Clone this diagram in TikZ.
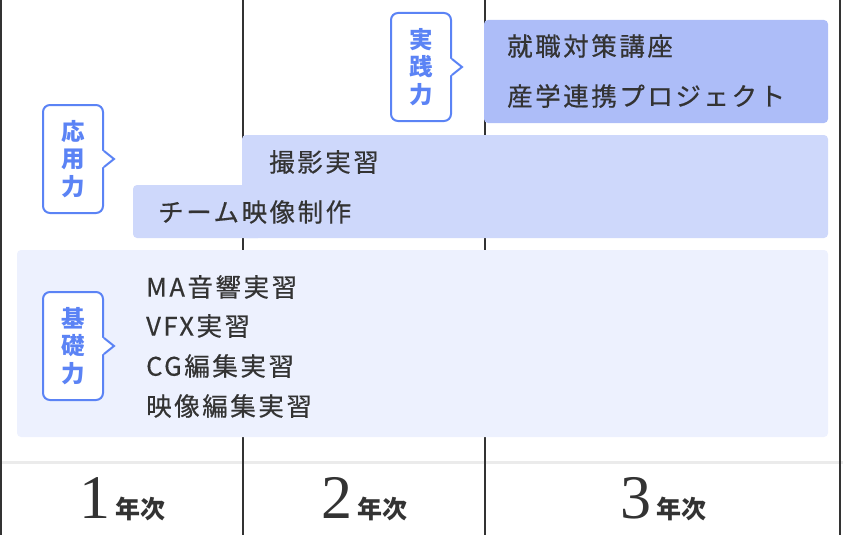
\documentclass[tikz,border=0pt]{standalone}
\usepackage{fontspec}
\setmainfont{Noto Sans CJK JP}
\newfontfamily\jpfont{Noto Sans CJK JP}[LetterSpace=10, FakeBold=0.5]
\newfontfamily\digitfont{Liberation Serif}
\definecolor{linedark}{HTML}{333333}
\definecolor{gridgray}{HTML}{EBEBEB}
\definecolor{practicebg}{HTML}{ADBDF8}
\definecolor{appliedbg}{HTML}{CED8FB}
\definecolor{basicbg}{HTML}{EDF1FE}
\definecolor{labelblue}{HTML}{5B83F5}
\definecolor{textdark}{HTML}{333333}
\tikzset{
  colline/.style={draw=linedark, line width=2pt},
  itemtext/.style={anchor=west, inner sep=0pt, text=textdark, font=\jpfont\fontsize{25.5}{25.5}\selectfont},
  callout/.style={draw=labelblue, line width=2pt, fill=white, rounded corners=7pt,
    minimum width=60pt, minimum height=108pt, inner sep=0pt, align=center,
    text=labelblue, font=\bfseries\fontsize{23.5}{27.5}\selectfont},
  calloutarrow/.style={draw=labelblue, line width=2pt, line join=miter},
  yeartext/.style={anchor=base, inner sep=0pt, text=textdark}
}
\begin{document}
\begin{tikzpicture}[x=1pt,y=-1pt]
\useasboundingbox (0,0) rectangle (843,535);
% grid
\draw[gridgray, line width=3pt] (0,462) -- (843,462);
\draw[colline] (1,0) -- (1,535);
\draw[colline] (243,0) -- (243,535);
\draw[colline] (485,0) -- (485,535);
\draw[colline] (840,0) -- (840,535);
% practice box
\fill[practicebg, rounded corners=4pt] (484,20) rectangle (828,123);
% applied box (L shape)
\fill[appliedbg, rounded corners=4pt] (242,135) rectangle (828,238);
\fill[appliedbg, rounded corners=4pt] (133,185) rectangle (262,238);
% basic box
\fill[basicbg, rounded corners=4pt] (17,250) rectangle (828,437);
% callouts
\node[callout] (lp) at (421,67) {実\\践\\力};
\node[callout] (la) at (73,159) {応\\用\\力};
\node[callout] (lb) at (73,346) {基\\礎\\力};
\foreach \n in {lp,la,lb}{
  \fill[white] ([xshift=-2pt,yshift=8.5pt]\n.east) -- ([xshift=10pt]\n.east) -- ([xshift=-2pt,yshift=-8.5pt]\n.east) -- cycle;
  \draw[calloutarrow] ([yshift=8pt]\n.east) -- ([xshift=10pt]\n.east) -- ([yshift=-8pt]\n.east);
}
% items
\node[itemtext] (p1) at (507,46) {就職対策講座};
\node[itemtext] (p2) at (507,96) {産学連携プロジェクト};
\node[itemtext] (a1) at (269,162) {撮影実習};
\node[itemtext] (a2) at (158,212) {チーム映像制作};
\node[itemtext] (b1) at (146,287) {MA音響実習};
\node[itemtext] (b2) at (146,326) {VFX実習};
\node[itemtext] (b3) at (146,366) {CG編集実習};
\node[itemtext] (b4) at (146,406) {映像編集実習};
% years
\node[yeartext] (y1) at (122,518) {{\digitfont\fontsize{62}{62}\selectfont 1}\hspace{5pt}{\bfseries\fontsize{25}{25}\selectfont 年次}};
\node[yeartext] (y2) at (364,518) {{\digitfont\fontsize{62}{62}\selectfont 2}\hspace{5pt}{\bfseries\fontsize{25}{25}\selectfont 年次}};
\node[yeartext] (y3) at (663,518) {{\digitfont\fontsize{62}{62}\selectfont 3}\hspace{5pt}{\bfseries\fontsize{25}{25}\selectfont 年次}};
\end{tikzpicture}
\end{document}
